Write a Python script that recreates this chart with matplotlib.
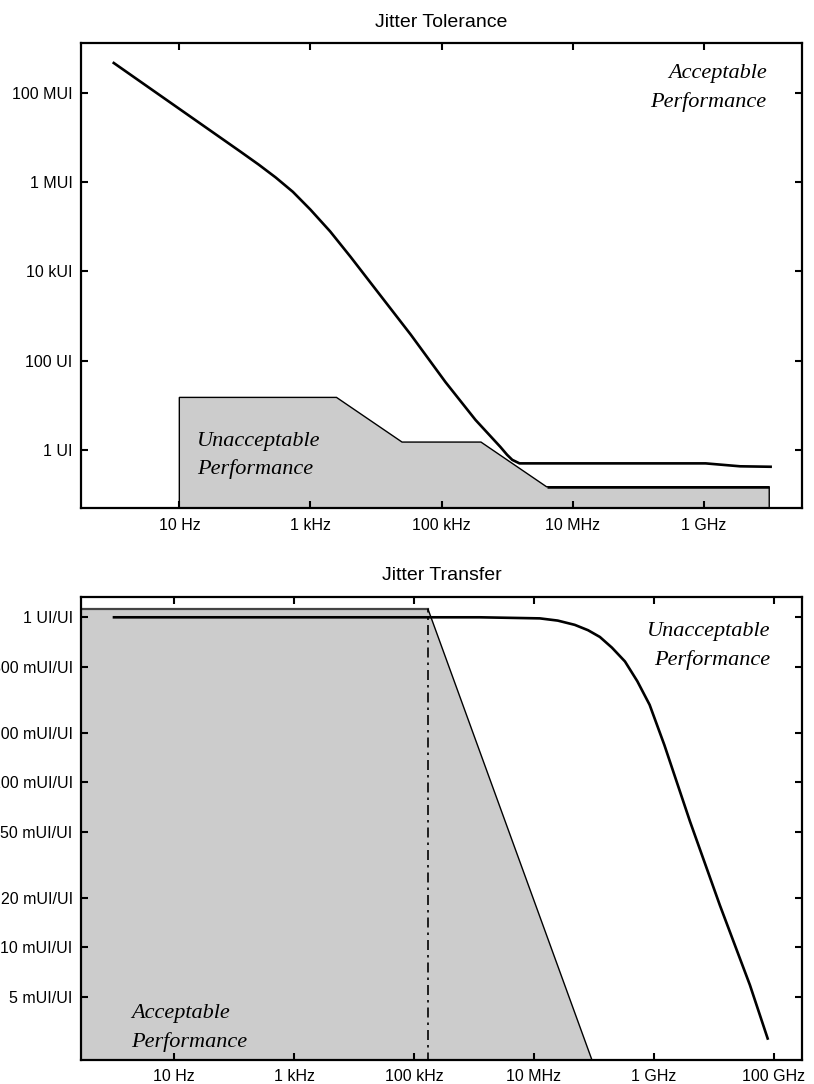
import matplotlib
matplotlib.use("Agg")
import matplotlib.pyplot as plt

# ---------------- data ----------------
# Jitter tolerance curve (Hz, UI)
tol_freq = [1, 85, 1.62e2, 2.95e2, 5.4e2, 1.0e3, 2.0e3, 4.1e3, 8.3e3, 3.4e4,
            1.15e5, 3.3e5, 7.9e5, 1.0e6, 1.2e6, 1.55e6, 1.07e9, 3.6e9, 1.05e10]
tol_ui = [4.6e8, 4.8e6, 2.45e6, 1.26e6, 6.0e5, 2.4e5, 7.8e4, 2.1e4, 5.5e3,
          3.8e2, 3.3e1, 4.7, 1.17, 0.78, 0.60, 0.50, 0.50, 0.43, 0.42]

# Tolerance mask (unacceptable region), Hz / UI
mask_tol_freq = [10, 10, 2.5e3, 2.5e4, 4.0e5, 4.0e6, 1.0e10, 1.0e10]
mask_tol_ui = [1e-3, 15, 15, 1.5, 1.5, 0.15, 0.15, 1e-3]

# Jitter transfer curve (Hz, UI/UI)
xfer_freq = [1, 1.26e6, 1.26e7, 2.5e7, 4.8e7, 8.0e7, 1.26e8, 2.0e8, 3.3e8,
             5.3e8, 8.5e8, 1.5e9, 4.0e9, 1.26e10, 4.0e10, 7.9e10]
xfer_val = [1, 1, 0.985, 0.955, 0.90, 0.835, 0.76, 0.655, 0.54, 0.41,
            0.295, 0.168, 0.058, 0.018, 0.0059, 0.0028]

# Transfer mask (acceptable region)
mask_xfer_freq = [0.1, 1.72e5, 1.0e9]
mask_xfer_val = [1.12, 1.12, 1.93e-4]
xfer_cutoff = 1.72e5

# ticks
tol_xticks = [10, 1e3, 1e5, 1e7, 1e9]
tol_xlabels = ["10 Hz", "1 kHz", "100 kHz", "10 MHz", "1 GHz"]
tol_yticks = [1, 1e2, 1e4, 1e6, 1e8]
tol_ylabels = ["1 UI", "100 UI", "10 kUI", "1 MUI", "100 MUI"]

xfer_xticks = [10, 1e3, 1e5, 1e7, 1e9, 1e11]
xfer_xlabels = ["10 Hz", "1 kHz", "100 kHz", "10 MHz", "1 GHz", "100 GHz"]
xfer_yticks = [1, 0.5, 0.2, 0.1, 0.05, 0.02, 0.01, 0.005]
xfer_ylabels = ["1 UI/UI", "500 mUI/UI", "200 mUI/UI", "100 mUI/UI",
                "50 mUI/UI", "20 mUI/UI", "10 mUI/UI", "5 mUI/UI"]

# ---------------- style ----------------
plt.rcParams['font.family'] = ['Liberation Sans', 'DejaVu Sans']
GREY = "#cccccc"
W, H = 814, 1084
fig = plt.figure(figsize=(W / 100, H / 100), dpi=100)


def style_axes(ax, xt, xl, yt, yl, xpad, ypad):
    ax.set_xscale('log')
    ax.set_yscale('log')
    ax.set_xticks(xt)
    ax.set_xticklabels(xl)
    ax.set_yticks(yt)
    ax.set_yticklabels(yl)
    ax.minorticks_off()
    ax.tick_params(axis='both', which='major', direction='in', length=5,
                   width=1.5, top=True, right=True, labelsize=11.5)
    ax.tick_params(axis='x', pad=xpad)
    ax.tick_params(axis='y', pad=ypad)
    for s in ax.spines.values():
        s.set_linewidth(1.6)


serif = dict(family=['Liberation Serif', 'DejaVu Serif'], style='italic',
             fontsize=16, linespacing=1.6)

# ---------------- top: jitter tolerance ----------------
ax1 = fig.add_axes([81 / W, 1 - 508 / H, 721 / W, 465 / H])
ax1.set_xlim(10 ** -0.5, 10 ** 10.5)
ax1.set_ylim(10 ** -1.30, 10 ** 9.11)
ax1.fill(mask_tol_freq, mask_tol_ui, facecolor=GREY, edgecolor='black',
         linewidth=1.0, zorder=1)
ax1.plot(mask_tol_freq[5:7], mask_tol_ui[5:7], color='black', lw=1.8,
         zorder=2, solid_capstyle='butt')
ax1.plot(tol_freq, tol_ui, color='black', lw=1.9, zorder=3)
style_axes(ax1, tol_xticks, tol_xlabels, tol_yticks, tol_ylabels, 7, 6)
ax1.set_title("Jitter Tolerance", fontsize=14, pad=11.5)

ax1.text(0.951, 0.904, "Acceptable\nPerformance", transform=ax1.transAxes,
         ha='right', va='center', **serif)
ax1.text(0.161, 0.113, "Unacceptable\nPerformance", transform=ax1.transAxes,
         ha='left', va='center', **serif)

# ---------------- bottom: jitter transfer ----------------
ax2 = fig.add_axes([81 / W, 1 - 1060 / H, 721 / W, 463 / H])
ax2.set_xlim(10 ** -0.55, 10 ** 11.47)
ax2.set_ylim(10 ** -2.683, 10 ** 0.123)
ax2.fill_between(mask_xfer_freq, mask_xfer_val, 1e-6, facecolor=GREY,
                 edgecolor='none', zorder=1)
ax2.plot(mask_xfer_freq[:2], mask_xfer_val[:2], color='#444444', lw=1.6,
         zorder=2)
ax2.plot(mask_xfer_freq[1:], mask_xfer_val[1:], color='black', lw=1.0,
         zorder=2)
ax2.plot([xfer_cutoff, xfer_cutoff], [1e-6, mask_xfer_val[1]], color='black',
         lw=1.2, linestyle=(0, (6, 3, 1.5, 3)), zorder=2)
ax2.plot(xfer_freq, xfer_val, color='black', lw=1.9, zorder=3)
style_axes(ax2, xfer_xticks, xfer_xlabels, xfer_yticks, xfer_ylabels, 6.5, 6)
ax2.set_title("Jitter Transfer", fontsize=14, pad=12.5)

ax2.text(0.956, 0.894, "Unacceptable\nPerformance", transform=ax2.transAxes,
         ha='right', va='center', **serif)
ax2.text(0.069, 0.069, "Acceptable\nPerformance", transform=ax2.transAxes,
         ha='left', va='center', **serif)

fig.savefig("out.png", dpi=100)
